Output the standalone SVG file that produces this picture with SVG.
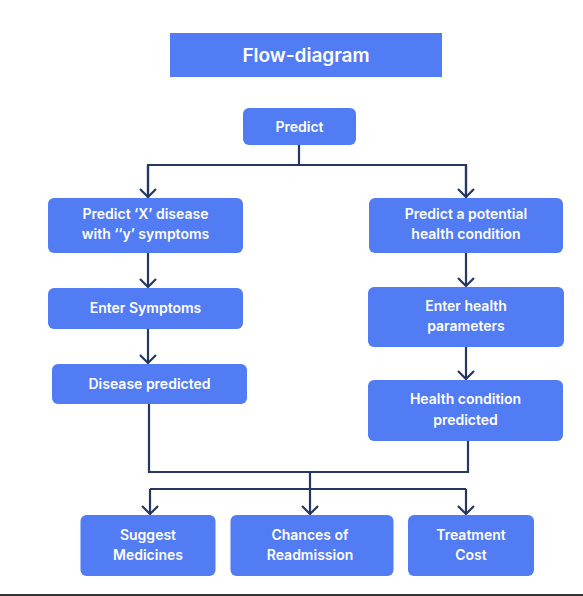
<svg xmlns="http://www.w3.org/2000/svg" width="583" height="596" viewBox="0 0 583 596">
<defs>
<style>
.box{fill:#517cf4;}
.t{fill:#ffffff;font-family:Inter,"Noto Sans","Liberation Sans",sans-serif;font-weight:600;font-size:14px;text-anchor:middle;}
.title{font-size:19px;}
.c{fill:none;stroke:#263762;stroke-width:2.2;}
</style>
<marker id="ah" viewBox="0 0 10 18" refX="9" refY="9" markerWidth="10" markerHeight="18" markerUnits="userSpaceOnUse" orient="auto">
<path d="M1,1 L9,9 L1,17" fill="none" stroke="#263762" stroke-width="2.2"/>
</marker>
</defs>
<rect width="583" height="596" fill="#ffffff"/>
<g id="title">
<rect class="box" x="170" y="33" width="272" height="44"/>
<text class="t title" x="306" y="61.5">Flow-diagram</text>
</g>
<g id="connectors">
<path class="c" d="M299,145 V165 M148,198 V165 H466 V198" />
<path class="c" d="M148,165 V197" marker-end="url(#ah)"/>
<path class="c" d="M466,165 V197" marker-end="url(#ah)"/>
<path class="c" d="M148,253 V287" marker-end="url(#ah)"/>
<path class="c" d="M466,253 V286" marker-end="url(#ah)"/>
<path class="c" d="M148,329 V363" marker-end="url(#ah)"/>
<path class="c" d="M466,347 V379" marker-end="url(#ah)"/>
<path class="c" d="M149,404 V472 H468 V441 M310,472 V489 M150,489 H466"/>
<path class="c" d="M150,489 V514" marker-end="url(#ah)"/>
<path class="c" d="M310,489 V514" marker-end="url(#ah)"/>
<path class="c" d="M466,489 V514" marker-end="url(#ah)"/>
</g>
<g id="predict">
<rect class="box" x="243" y="108" width="113" height="37" rx="6"/>
<text class="t" x="299.5" y="131.5">Predict</text>
</g>
<g id="predict-x">
<rect class="box" x="48" y="198" width="195" height="55" rx="6"/>
<text class="t" x="145.5" y="219">Predict ‘X’ disease</text>
<text class="t" x="145.5" y="239">with ‘‘y’ symptoms</text>
</g>
<g id="predict-health">
<rect class="box" x="369" y="198" width="194" height="55" rx="6"/>
<text class="t" x="466" y="219">Predict a potential</text>
<text class="t" x="466" y="239">health condition</text>
</g>
<g id="enter-symptoms">
<rect class="box" x="48" y="288" width="195" height="41" rx="6"/>
<text class="t" x="145.5" y="313">Enter Symptoms</text>
</g>
<g id="enter-health">
<rect class="box" x="368" y="287" width="196" height="60" rx="6"/>
<text class="t" x="466" y="310.5">Enter health</text>
<text class="t" x="466" y="331">parameters</text>
</g>
<g id="disease-predicted">
<rect class="box" x="52" y="364" width="195" height="40" rx="6"/>
<text class="t" x="149.5" y="388.5">Disease predicted</text>
</g>
<g id="health-predicted">
<rect class="box" x="368" y="380" width="195" height="61" rx="6"/>
<text class="t" x="465.5" y="404">Health condition</text>
<text class="t" x="465.5" y="424.5">predicted</text>
</g>
<g id="suggest">
<rect class="box" x="80.5" y="515" width="135" height="61" rx="6"/>
<text class="t" x="148" y="539.5">Suggest</text>
<text class="t" x="148" y="560">Medicines</text>
</g>
<g id="chances">
<rect class="box" x="230.5" y="515" width="163" height="61" rx="6"/>
<text class="t" x="310" y="539.5">Chances of</text>
<text class="t" x="310" y="560">Readmission</text>
</g>
<g id="cost">
<rect class="box" x="408" y="515" width="126" height="61" rx="6"/>
<text class="t" x="471" y="539.5">Treatment</text>
<text class="t" x="471" y="560">Cost</text>
</g>
<line x1="0" y1="595" x2="583" y2="595" stroke="#333333" stroke-width="2"/>
</svg>
